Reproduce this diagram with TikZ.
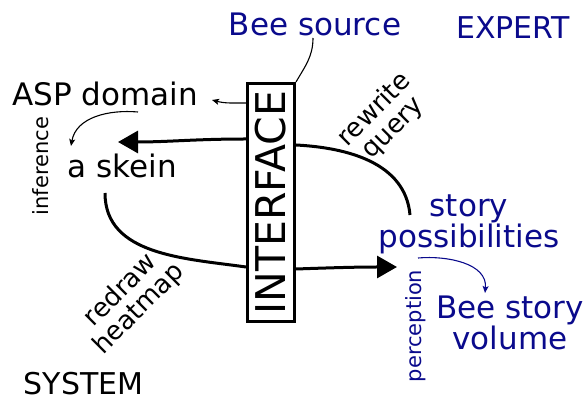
\documentclass[tikz,border=0pt]{standalone}
\usepackage{fontspec}
\usepackage{graphicx}
\setmainfont{DejaVu Sans}
\usetikzlibrary{arrows.meta}
\definecolor{ink}{RGB}{10,10,140}
\begin{document}
\begin{tikzpicture}[x=1pt,y=1pt,
  label/.style={inner sep=0pt, font=\fontsize{31}{30}\selectfont},
  side/.style={label, font=\fontsize{30}{30}\selectfont},
  small/.style={inner sep=0pt, font=\fontsize{21}{21}\selectfont},
  diag/.style={inner sep=0pt, align=center, rotate=45, font=\fontsize{26}{26}\selectfont},
  thinline/.style={line width=1.1pt},
  thickline/.style={line width=3pt},
  bigtip/.style={-{Triangle[length=20pt,width=22pt]}},
  smalltip/.style={-{Stealth[length=7pt,width=6pt,inset=1.5pt]}}
]
\useasboundingbox (0,0) rectangle (586,401);

% central interface box
\node[draw, line width=3pt, minimum width=47pt, minimum height=238pt, inner sep=0pt]
  (box) at (271,198.5) {\rotatebox{90}{\fontsize{41}{41}\selectfont INTERFACE}};

% corner labels
\node[side, text=ink, anchor=base] (expert) at (513,362) {EXPERT};
\node[side, anchor=base] (system) at (83.5,6) {SYSTEM};

% texts
\node[label, text=ink, anchor=base] (src) at (315,365) {Bee source};
\node[label, anchor=base] (asp) at (105,295) {ASP domain};
\node[label, anchor=base] (skein) at (122.5,223) {a skein};
\node[label, text=ink, align=center] (story) at (469,177) {story\\possibilities};
\node[label, text=ink, align=center] (vol) at (510,78) {Bee story\\volume};

% edge labels
\node[diag] (rq) at (384,282) {rewrite\\query};
\node[diag] (rh) at (130,101) {redraw\\heatmap};
\node[small, rotate=90] (inf) at (41,235) {inference};
\node[small, rotate=90, text=ink] (perc) at (416,75) {perception};

% connector end points
\coordinate (srcfoot) at (313,363);
\coordinate (asptip) at (212,301);
\coordinate (skeintip) at (118,259);
\coordinate (skeinfoot) at (105,208);
\coordinate (storyfoot) at (410,186);
\coordinate (storytip) at (397,134);
\coordinate (infstart) at (138,289);
\coordinate (inftip) at (71,255);
\coordinate (percstart) at (418,143);
\coordinate (perctip) at (485,108);

% connectors
\draw[thinline] (srcfoot) to[out=-90,in=60] (box.north east);
\draw[thinline, smalltip] (box.west |- 0,298) to[out=180,in=-15] (asptip);
\draw[thickline, bigtip] (box.west |- 0,262) to[out=180,in=0] (skeintip);
\draw[thickline] (box.east |- 0,256) to[out=-3,in=95] (storyfoot);
\draw[thickline] (skeinfoot) to[out=-90,in=172] (box.west |- 0,134);
\draw[thickline, bigtip] (box.east |- 0,132) to[out=2,in=180] (storytip);
\draw[thinline, smalltip] (infstart) to[out=175,in=80] (inftip);
\draw[thinline, smalltip, ink] (percstart) to[out=5,in=85] (perctip);
\end{tikzpicture}
\end{document}
